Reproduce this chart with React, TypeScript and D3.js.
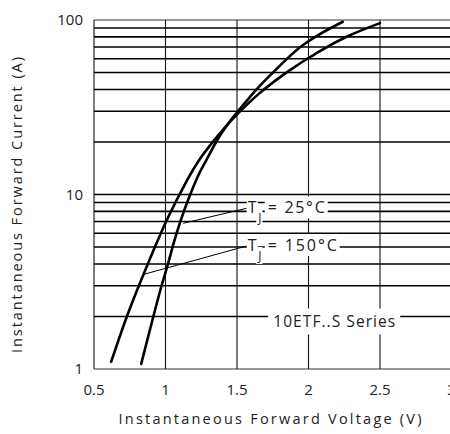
import React, { useEffect, useRef } from "react";
import * as d3 from "d3";

// ---- data ----
const xTicks = [0.5, 1, 1.5, 2, 2.5, 3];
const xTickLabels = ["0.5", "1", "1.5", "2", "2.5", "3"];
const yTicks = [1, 10, 100];
const yTickLabels = ["1", "10", "100"];
const yGrid = [1, 2, 3, 4, 5, 6, 7, 8, 9, 10, 20, 30, 40, 50, 60, 70, 80, 90, 100];

// TJ = 150 °C
const v150 = [0.62, 0.73, 0.82, 0.88, 0.95, 1.01, 1.07, 1.12, 1.16, 1.23, 1.36, 1.46, 1.55, 1.65, 1.78, 1.92, 2.0, 2.08, 2.27, 2.5];
const i150 = [1.1, 2.0, 3.09, 4.07, 5.56, 7.16, 9.02, 10.8, 12.45, 15.5, 21.4, 26.6, 31.6, 37.6, 45.7, 55.0, 60.5, 66.4, 80.4, 96];
// TJ = 25 °C
const v25 = [0.83, 0.915, 0.97, 1.02, 1.055, 1.09, 1.14, 1.18, 1.23, 1.29, 1.36, 1.46, 1.55, 1.64, 1.78, 1.92, 2.0, 2.24];
const i25 = [1.07, 2.0, 2.95, 4.07, 5.19, 6.46, 8.51, 10.35, 12.9, 16.0, 20.4, 26.9, 33.1, 40.3, 52.7, 67.6, 75.5, 97.7];

// annotation leaders: [startV, startI, endV, endI]
const lead25 = [1.124, 6.84, 1.568, 8.34];
const lead150 = [0.85, 3.49, 1.568, 5.07];
const label25 = "= 25°C";
const label150 = "= 150°C";
const seriesLabel = "10ETF..S Series";
const xTitle = "Instantaneous Forward Voltage (V)";
const yTitle = "Instantaneous Forward Current (A)";

const FONT = "'Open Sans', 'DejaVu Sans', sans-serif";

export default function App() {
  const ref = useRef<SVGSVGElement | null>(null);

  useEffect(() => {
    const svg = d3.select(ref.current);
    svg.selectAll("*").remove();

    const x = d3.scaleLinear().domain([0.5, 3]).range([94, 451.5]);
    const y = d3.scaleLog().domain([1, 100]).range([369, 20]);

    const g = svg.append("g");

    // horizontal grid
    g.selectAll("line.h")
      .data(yGrid)
      .join("line")
      .attr("x1", x(0.5))
      .attr("x2", x(3))
      .attr("y1", (d) => y(d))
      .attr("y2", (d) => y(d))
      .attr("stroke", (d) => (d === 100 || d === 1 ? "#333" : "#000"))
      .attr("stroke-width", (d) => (d === 100 || d === 1 ? 1 : 1.6));

    // vertical grid
    g.selectAll("line.v")
      .data(xTicks)
      .join("line")
      .attr("x1", (d) => x(d))
      .attr("x2", (d) => x(d))
      .attr("y1", y(100))
      .attr("y2", y(1))
      .attr("stroke", "#111")
      .attr("stroke-width", 1.1);

    // curves
    const line = d3
      .line<[number, number]>()
      .x((d) => x(d[0]))
      .y((d) => y(d[1]))
      .curve(d3.curveMonotoneX);

    const s150: [number, number][] = v150.map((v, i) => [v, i150[i]]);
    const s25: [number, number][] = v25.map((v, i) => [v, i25[i]]);
    [s150, s25].forEach((s) => {
      g.append("path")
        .attr("d", line(s))
        .attr("fill", "none")
        .attr("stroke", "#000")
        .attr("stroke-width", 2.6)
        .attr("stroke-linecap", "round");
    });

    // leaders
    [lead25, lead150].forEach((l) => {
      g.append("line")
        .attr("x1", x(l[0]))
        .attr("y1", y(l[1]))
        .attr("x2", x(l[2]))
        .attr("y2", y(l[3]))
        .attr("stroke", "#000")
        .attr("stroke-width", 1);
    });

    // labels with white boxes
    const boxed = (
      txt: string,
      px: number,
      py: number,
      size: number,
      padX: number,
      padY: number,
      anchor = "start",
      len = 0
    ) => {
      const grp = g.append("g");
      const rect = grp.append("rect").attr("fill", "#fff");
      const t = grp
        .append("text")
        .attr("x", px)
        .attr("y", py)
        .attr("font-family", FONT)
        .attr("font-size", size)
        .attr("text-anchor", anchor)
        .attr("fill", "#222")
        .text(txt);
      if (len > 0) t.attr("textLength", len).attr("lengthAdjust", "spacing");
      const bb = (t.node() as SVGTextElement).getBBox();
      rect
        .attr("x", bb.x - padX)
        .attr("y", bb.y - padY)
        .attr("width", bb.width + 2 * padX)
        .attr("height", bb.height + 2 * padY);
    };

    const annot = (endV: number, endI: number, label: string, len: number) => {
      const ex = x(endV);
      const ey = y(endI);
      boxed("T", ex + 1, ey + 5, 16, 1, 0);
      boxed("J", ex + 11.5, ey + 14, 12, 1, 0);
      boxed(label, ex + 21, ey + 5, 16, 3, 0, "start", len);
    };
    annot(lead25[2], lead25[3], label25, 57);
    annot(lead150[2], lead150[3], label150, 69);

    boxed(seriesLabel, x(2.18), y(1.73), 15.5, 5, 2, "middle", 122);

    // tick labels
    g.selectAll("text.xt")
      .data(xTicks)
      .join("text")
      .attr("x", (d) => x(d))
      .attr("y", 395)
      .attr("text-anchor", "middle")
      .attr("font-family", FONT)
      .attr("font-size", 15)
      .attr("fill", "#222")
      .text((d, i) => xTickLabels[i]);

    g.selectAll("text.yt")
      .data(yTicks)
      .join("text")
      .attr("x", 83)
      .attr("y", (d) => y(d) + 5)
      .attr("text-anchor", "end")
      .attr("font-family", FONT)
      .attr("font-size", 15)
      .attr("fill", "#222")
      .text((d, i) => yTickLabels[i]);

    // axis titles
    g.append("text")
      .attr("x", 270)
      .attr("y", 424)
      .attr("text-anchor", "middle")
      .attr("font-family", FONT)
      .attr("font-size", 14.5)
      .attr("fill", "#222")
      .attr("textLength", 303)
      .attr("lengthAdjust", "spacing")
      .text(xTitle);

    g.append("text")
      .attr("transform", "translate(22,205) rotate(-90)")
      .attr("text-anchor", "middle")
      .attr("font-family", FONT)
      .attr("font-size", 14.5)
      .attr("fill", "#222")
      .attr("textLength", 296)
      .attr("lengthAdjust", "spacing")
      .text(yTitle);
  }, []);

  return (
    <svg
      ref={ref}
      width={450}
      height={434}
      style={{ position: "absolute", left: 0, top: 0, background: "#fff" }}
    />
  );
}
